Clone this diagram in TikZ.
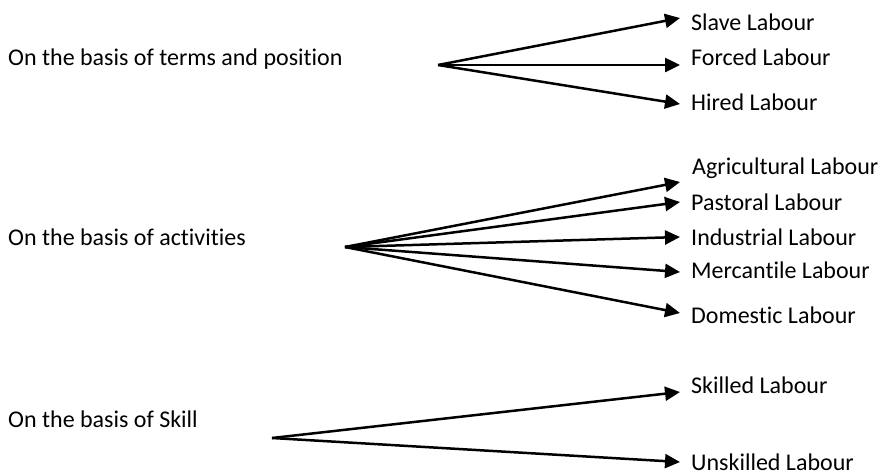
\documentclass[tikz,border=0pt]{standalone}
\usepackage{fontspec}
\setmainfont{Carlito}[Ligatures=NoCommon]
\usetikzlibrary{arrows.meta}
\tikzset{
  lbl/.style={anchor=base west, inner sep=0pt, font=\fontsize{24}{28}\selectfont},
  conn/.style={line width=2.5pt, -{Triangle[length=15pt,width=14pt]}}
}
\begin{document}
\begin{tikzpicture}[x=1pt,y=-1pt]
\useasboundingbox (0,0) rectangle (880,475);
% left labels
\node[lbl] (g1) at (8,65) {On the basis of terms and position};
\node[lbl] (g2) at (8,245) {On the basis of activities};
\node[lbl] (g3) at (8,427) {On the basis of Skill};
% origins
\coordinate (o1) at (438,65);
\coordinate (o2) at (345,247);
\coordinate (o3) at (272,438);
% right labels
\node[lbl] (slave) at (691,30) {Slave Labour};
\node[lbl] (forced) at (691,65) {Forced Labour};
\node[lbl] (hired) at (691,110) {Hired Labour};
\node[lbl] (agri) at (692,174) {Agricultural Labour};
\node[lbl] (past) at (691,210) {Pastoral Labour};
\node[lbl] (indu) at (691,245) {Industrial Labour};
\node[lbl] (merc) at (691,278) {Mercantile Labour};
\node[lbl] (dome) at (691,323) {Domestic Labour};
\node[lbl] (skil) at (691,393) {Skilled Labour};
\node[lbl] (unsk) at (691,470) {Unskilled Labour};
% arrow tips
\coordinate (tslave) at (680,18);
\coordinate (tforced) at (680,65);
\coordinate (thired) at (680,104);
\coordinate (tagri) at (680,182);
\coordinate (tpast) at (680,202);
\coordinate (tindu) at (680,237);
\coordinate (tmerc) at (680,272);
\coordinate (tdome) at (680,313);
\coordinate (tskil) at (680,392);
\coordinate (tunsk) at (680,462);
% connectors
\draw[conn] (o1) -- (tslave);
\draw[conn] (o1) -- (tforced);
\draw[conn] (o1) -- (thired);
\draw[conn] (o2) -- (tagri);
\draw[conn] (o2) -- (tpast);
\draw[conn] (o2) -- (tindu);
\draw[conn] (o2) -- (tmerc);
\draw[conn] (o2) -- (tdome);
\draw[conn] (o3) -- (tskil);
\draw[conn] (o3) -- (tunsk);
\end{tikzpicture}
\end{document}
